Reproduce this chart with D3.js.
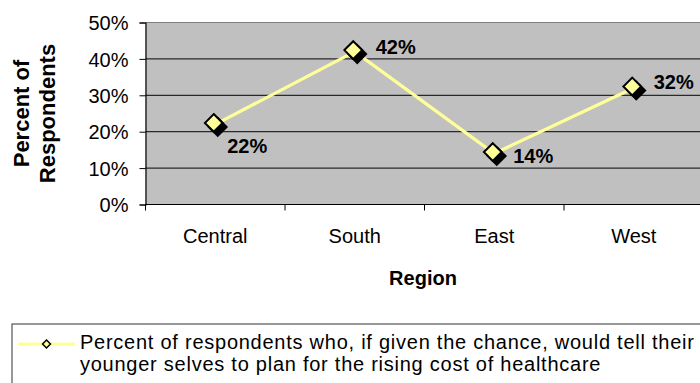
<!DOCTYPE html>
<html>
<head>
<meta charset="utf-8">
<script src="https://cdn.jsdelivr.net/npm/d3@7"></script>
<style>
  html, body { margin: 0; padding: 0; background: #fff; }
  svg { display: block; font-family: "Liberation Sans", Arial, sans-serif; }
</style>
</head>
<body>
<svg id="chart" width="700" height="383"></svg>
<script>
// Share of respondents by region
const regions = ["Central", "South", "East", "West"];
const shares = [0.22, 0.42, 0.14, 0.32];
const yTicks = [0, 0.1, 0.2, 0.3, 0.4, 0.5];
const valueLabels = ["22%", "42%", "14%", "32%"];
// where each value label sits relative to its marker
const labelOffsets = [[12, 29], [21, 2], [19, 9], [20, 1]];
const seriesName = [
  "Percent of respondents who, if given the chance, would tell their",
  "younger selves to plan for the rising cost of healthcare"
];

const svg = d3.select("#chart");
const plot = { left: 145.5, right: 703.5, top: 22.5, bottom: 204.5 };
const lineYellow = "#FFFF99";

const x = d3.scaleBand().domain(regions).range([plot.left, plot.right]);
const y = d3.scaleLinear().domain([0, 0.5]).range([plot.bottom, plot.top]);

// plot area
svg.append("rect")
  .attr("x", plot.left).attr("y", plot.top)
  .attr("width", plot.right - plot.left).attr("height", plot.bottom - plot.top)
  .attr("fill", "#C0C0C0");

// horizontal gridlines
svg.append("g").selectAll("line")
  .data(yTicks.filter(d => d > 0))
  .join("line")
  .attr("x1", plot.left).attr("x2", plot.right)
  .attr("y1", d => y(d)).attr("y2", d => y(d))
  .attr("stroke", d => d === 0.5 ? "#808080" : "#2a2a2a")
  .attr("stroke-width", 1.2);

// y axis
const yAxis = svg.append("g")
  .attr("transform", `translate(${plot.left},0)`)
  .call(d3.axisLeft(y).tickValues(yTicks).tickFormat(d3.format(".0%")).tickSizeOuter(0).tickSize(6).tickPadding(11));
yAxis.select(".domain").attr("stroke", "#000").attr("stroke-width", 1.2);
yAxis.selectAll(".tick line").attr("stroke", "#000");
yAxis.selectAll(".tick text")
  .attr("font-size", 20).attr("font-family", "Liberation Sans, Arial, sans-serif")
  .attr("fill", "#000").attr("dy", "0.36em");

// x axis: ticks at category boundaries
const xAxis = svg.append("g").attr("transform", `translate(0,${plot.bottom})`);
xAxis.append("line")
  .attr("x1", plot.left).attr("x2", plot.right)
  .attr("stroke", "#000").attr("stroke-width", 1.2);
const boundaries = regions.map(r => x(r)).concat([x(regions[regions.length - 1]) + x.bandwidth()]);
xAxis.selectAll("line.tk")
  .data(boundaries)
  .join("line").attr("class", "tk")
  .attr("x1", d => d).attr("x2", d => d)
  .attr("y1", 0).attr("y2", 6)
  .attr("stroke", "#000");
xAxis.selectAll("text")
  .data(regions)
  .join("text")
  .attr("x", d => x(d) + x.bandwidth() / 2)
  .attr("y", 38.5)
  .attr("text-anchor", "middle")
  .attr("font-size", 20)
  .text(d => d);

// axis titles
svg.append("text")
  .attr("x", 423).attr("y", 285)
  .attr("text-anchor", "middle")
  .attr("font-size", 20).attr("font-weight", "bold")
  .text("Region");

const yTitle = svg.append("text")
  .attr("transform", `translate(0,${(plot.top + plot.bottom) / 2}) rotate(-90)`)
  .attr("text-anchor", "middle")
  .attr("font-size", 22).attr("font-weight", "bold");
yTitle.append("tspan").attr("x", 0).attr("y", 29).text("Percent of");
yTitle.append("tspan").attr("x", 0).attr("y", 55).text("Respondents");

// series line
const pts = regions.map((r, i) => [x(r) + x.bandwidth() / 2, y(shares[i])]);
svg.append("path")
  .datum(pts)
  .attr("d", d3.line())
  .attr("fill", "none")
  .attr("stroke", lineYellow)
  .attr("stroke-width", 3.2);

// diamond markers with drop shadow
const diamond = d3.symbol().type(d3.symbolDiamond2).size(200);
const markers = svg.append("g");
markers.selectAll("path.shadow")
  .data(pts).join("path").attr("class", "shadow")
  .attr("d", diamond)
  .attr("transform", d => `translate(${d[0] + 2.5},${d[1] + 2.5})`)
  .attr("fill", "#000").attr("stroke", "#000").attr("stroke-width", 2);
markers.selectAll("path.mk")
  .data(pts).join("path").attr("class", "mk")
  .attr("d", diamond)
  .attr("transform", d => `translate(${d[0] - 1.5},${d[1] - 1.5})`)
  .attr("fill", lineYellow).attr("stroke", "#000").attr("stroke-width", 2);

// value labels
svg.append("g").selectAll("text")
  .data(pts)
  .join("text")
  .attr("x", (d, i) => d[0] + labelOffsets[i][0])
  .attr("y", (d, i) => d[1] + labelOffsets[i][1])
  .attr("font-size", 20).attr("font-weight", "bold")
  .text((d, i) => valueLabels[i]);

// legend
const legend = svg.append("g");
legend.append("rect")
  .attr("x", 12).attr("y", 324).attr("width", 720).attr("height", 100)
  .attr("fill", "#fff").attr("stroke", "#333").attr("stroke-width", 1);
legend.append("line")
  .attr("x1", 18).attr("x2", 75).attr("y1", 344).attr("y2", 344)
  .attr("stroke", lineYellow).attr("stroke-width", 3);
legend.append("path")
  .attr("d", d3.symbol().type(d3.symbolDiamond2).size(40))
  .attr("transform", "translate(46.5,344)")
  .attr("fill", lineYellow).attr("stroke", "#000").attr("stroke-width", 1.5);
const legendText = legend.append("text")
  .attr("font-size", 20).attr("letter-spacing", 0.75);
legendText.selectAll("tspan")
  .data(seriesName)
  .join("tspan")
  .attr("x", 80)
  .attr("y", (d, i) => 349 + i * 22)
  .text(d => d);
</script>
</body>
</html>
